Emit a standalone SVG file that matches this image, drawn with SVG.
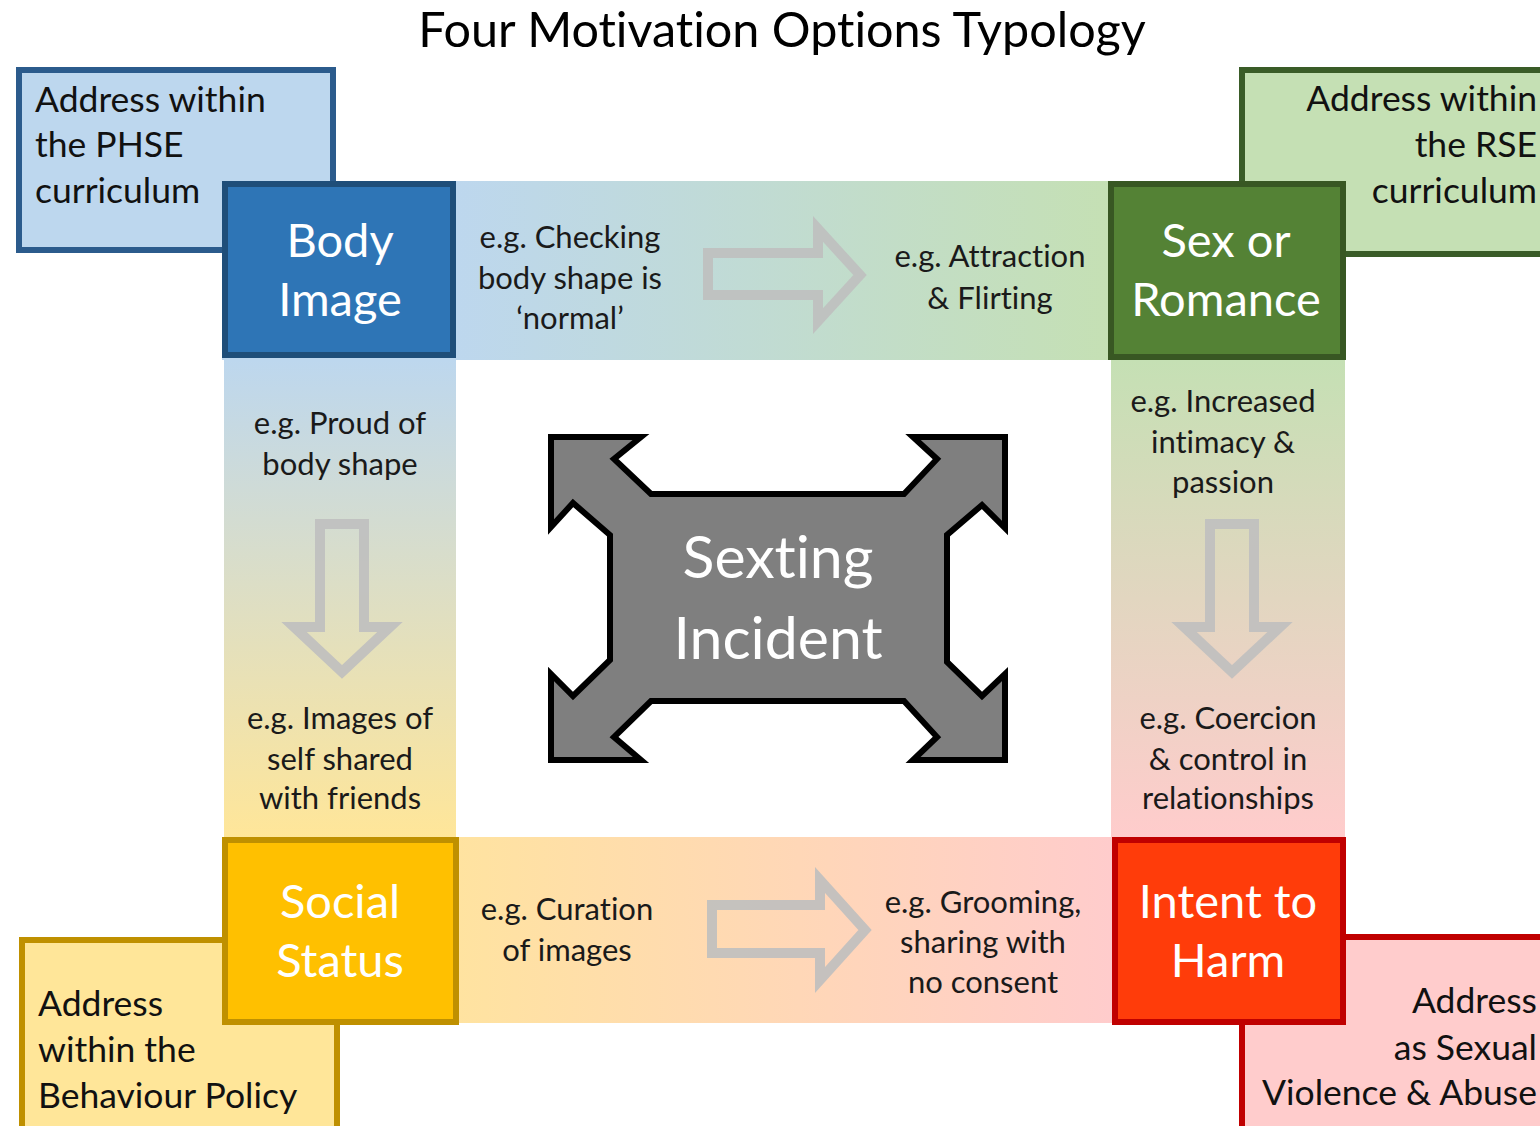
<svg xmlns="http://www.w3.org/2000/svg" width="1540" height="1126" viewBox="0 0 1540 1126">
  <style>
    text { font-family: Lato, "Open Sans", "Liberation Sans", sans-serif; font-variant-ligatures: none; }
    .title { font-size: 48.5px; fill: #000; text-anchor: middle; }
    .note { font-size: 35.5px; fill: #111; }
    .ex { font-size: 31px; fill: #1a1a1a; text-anchor: middle; }
    .head { font-size: 47px; fill: #fff; text-anchor: middle; }
    .centre { font-size: 59px; fill: #fff; text-anchor: middle; }
    .flow { fill: none; stroke: #BFBFBF; stroke-width: 10; stroke-linejoin: miter; opacity: 0.9; }
  </style>
  <defs>
    <linearGradient id="gTop" gradientUnits="userSpaceOnUse" x1="456" y1="0" x2="1110" y2="0">
      <stop offset="0" stop-color="#BDD7EE"/>
      <stop offset="1" stop-color="#C5E0B4"/>
    </linearGradient>
    <linearGradient id="gLeft" gradientUnits="userSpaceOnUse" x1="0" y1="360" x2="0" y2="838">
      <stop offset="0" stop-color="#BDD7EE"/>
      <stop offset="1" stop-color="#FFE699"/>
    </linearGradient>
    <linearGradient id="gRight" gradientUnits="userSpaceOnUse" x1="0" y1="360" x2="0" y2="838">
      <stop offset="0" stop-color="#C5E0B4"/>
      <stop offset="1" stop-color="#FFCCCC"/>
    </linearGradient>
    <linearGradient id="gBottom" gradientUnits="userSpaceOnUse" x1="456" y1="0" x2="1112" y2="0">
      <stop offset="0" stop-color="#FFE3A0"/>
      <stop offset="1" stop-color="#FFCCCC"/>
    </linearGradient>
  </defs>

  <rect width="1540" height="1126" fill="#fff"/>

  <text class="title" x="782" y="47">Four Motivation Options Typology</text>

  <!-- gradient bands linking the four motivations -->
  <g id="bands">
    <rect x="222" y="181" width="1124" height="179" fill="url(#gTop)"/>
    <rect x="224" y="358" width="232" height="482" fill="url(#gLeft)"/>
    <rect x="1111" y="358" width="234" height="482" fill="url(#gRight)"/>
    <rect x="222" y="837" width="1124" height="186" fill="url(#gBottom)"/>
  </g>

  <!-- hollow progression arrows -->
  <g id="connectors">
    <path class="flow" d="M708,253 H818 V229 L860,275 L818,321 V295 H708 Z"/>
    <path class="flow" d="M712,905 H820 V880 L865,930 L820,980 V953 H712 Z"/>
    <path class="flow" d="M320,524 H364 V627 H390 L342,672 L294,627 H320 Z"/>
    <path class="flow" d="M1210,524 H1254 V627 H1280 L1232,672 L1184,627 H1210 Z"/>
  </g>

  <!-- band examples -->
  <g id="examples">
    <text class="ex" x="570" y="248">e.g. Checking</text>
    <text class="ex" x="570" y="289">body shape is</text>
    <text class="ex" x="570" y="329">‘normal’</text>
    <text class="ex" x="990" y="267">e.g. Attraction</text>
    <text class="ex" x="990" y="309">&amp; Flirting</text>
    <text class="ex" x="340" y="434">e.g. Proud of</text>
    <text class="ex" x="340" y="475">body shape</text>
    <text class="ex" x="340" y="729">e.g. Images of</text>
    <text class="ex" x="340" y="770">self shared</text>
    <text class="ex" x="340" y="809">with friends</text>
    <text class="ex" x="1223" y="412">e.g. Increased</text>
    <text class="ex" x="1223" y="453">intimacy &amp;</text>
    <text class="ex" x="1223" y="493">passion</text>
    <text class="ex" x="1228" y="729">e.g. Coercion</text>
    <text class="ex" x="1228" y="770">&amp; control in</text>
    <text class="ex" x="1228" y="809">relationships</text>
    <text class="ex" x="567" y="920">e.g. Curation</text>
    <text class="ex" x="567" y="961">of images</text>
    <text class="ex" x="983" y="913">e.g. Grooming,</text>
    <text class="ex" x="983" y="953">sharing with</text>
    <text class="ex" x="983" y="993">no consent</text>
  </g>

  <!-- where to address each motivation -->
  <g id="note-phse">
    <rect x="19" y="70" width="314" height="180" fill="#BDD7EE" stroke="#2B5B8C" stroke-width="6"/>
    <text class="note" x="35" y="112">Address within</text>
    <text class="note" x="35" y="157">the PHSE</text>
    <text class="note" x="35" y="203">curriculum</text>
  </g>
  <g id="note-rse">
    <rect x="1242" y="70" width="310" height="184" fill="#C5E0B4" stroke="#3A5C28" stroke-width="6"/>
    <text class="note" x="1537" y="111" text-anchor="end">Address within</text>
    <text class="note" x="1537" y="157" text-anchor="end">the RSE</text>
    <text class="note" x="1537" y="203" text-anchor="end">curriculum</text>
  </g>
  <g id="note-behaviour">
    <rect x="22" y="940" width="315" height="200" fill="#FFE699" stroke="#BF9000" stroke-width="6"/>
    <text class="note" x="38" y="1016">Address</text>
    <text class="note" x="38" y="1062">within the</text>
    <text class="note" x="38" y="1108">Behaviour Policy</text>
  </g>
  <g id="note-abuse">
    <rect x="1242" y="937" width="310" height="200" fill="#FFCCCC" stroke="#C00000" stroke-width="6"/>
    <text class="note" x="1537" y="1013" text-anchor="end">Address</text>
    <text class="note" x="1537" y="1060" text-anchor="end">as Sexual</text>
    <text class="note" x="1537" y="1105" text-anchor="end">Violence &amp; Abuse</text>
  </g>

  <!-- the four motivations -->
  <g id="body-image">
    <rect x="225" y="184" width="228" height="171" fill="#2E75B6" stroke="#1F4E79" stroke-width="6"/>
    <text class="head" x="340" y="257">Body</text>
    <text class="head" x="340" y="316">Image</text>
  </g>
  <g id="sex-romance">
    <rect x="1111" y="184" width="232" height="173" fill="#548235" stroke="#385723" stroke-width="6"/>
    <text class="head" x="1226" y="257">Sex or</text>
    <text class="head" x="1226" y="316">Romance</text>
  </g>
  <g id="social-status">
    <rect x="225" y="840" width="231" height="182" fill="#FFC000" stroke="#BF9000" stroke-width="6"/>
    <text class="head" x="340" y="918">Social</text>
    <text class="head" x="340" y="977">Status</text>
  </g>
  <g id="intent-harm">
    <rect x="1115" y="840" width="228" height="182" fill="#FF3C0A" stroke="#C00000" stroke-width="6"/>
    <text class="head" x="1228" y="918">Intent to</text>
    <text class="head" x="1228" y="977">Harm</text>
  </g>

  <!-- central incident with outward corner arrows -->
  <g id="sexting-incident">
    <path d="M551,437 L641,437 L614,459 L651,494 L904,494 L937,459 L913,437 L1005,437 L1005,528 L982,505 L947,535 L947,662 L982,696 L1005,674 L1005,760 L913,760 L937,737 L904,701 L651,701 L614,737 L641,760 L551,760 L551,674 L573,696 L610,660 L610,535 L573,503 L551,527 Z" fill="#7F7F7F" stroke="#000" stroke-width="6" stroke-linejoin="miter"/>
    <text class="centre" x="778" y="578">Sexting</text>
    <text class="centre" x="778" y="659">Incident</text>
  </g>
</svg>
